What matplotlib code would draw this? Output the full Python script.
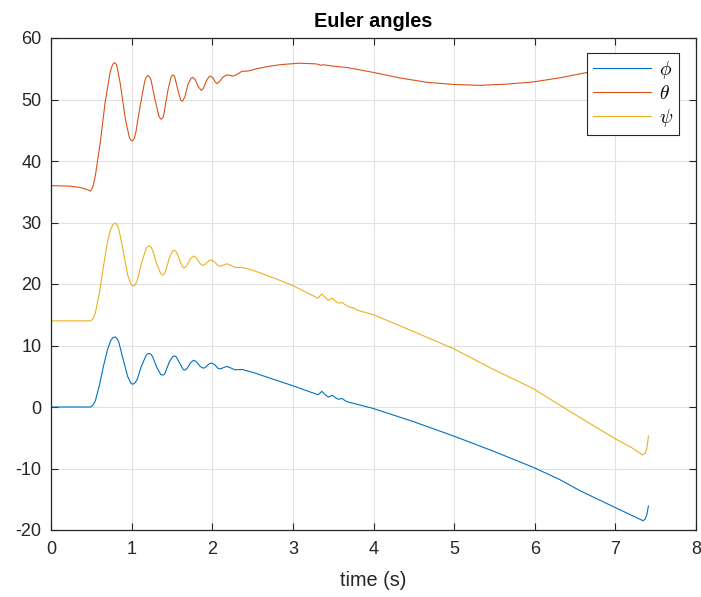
import numpy as np
import matplotlib
matplotlib.use('Agg')
import matplotlib.pyplot as plt

plt.rcParams['font.family'] = ['Liberation Sans', 'DejaVu Sans']
plt.rcParams['mathtext.fontset'] = 'cm'
plt.rcParams['axes.unicode_minus'] = False

# values (time in s, angles in deg)
t_phi = [0, 0.49, 0.52, 0.55, 0.60, 0.65, 0.70, 0.74, 0.77, 0.80, 0.82, 0.84, 0.89, 0.95,
         0.99, 1.01, 1.03, 1.05, 1.07, 1.12, 1.18, 1.20, 1.22, 1.24, 1.26, 1.31, 1.36, 1.38,
         1.39, 1.41, 1.42, 1.47, 1.51, 1.53, 1.55, 1.56, 1.61, 1.64, 1.66, 1.69, 1.73, 1.77,
         1.80, 1.85, 1.89, 1.92, 1.96, 1.99, 2.03, 2.07, 2.10, 2.14, 2.18, 2.22, 2.28, 2.37,
         2.51, 2.76, 2.99, 3.31, 3.34, 3.36, 3.40, 3.44, 3.47, 3.49, 3.53, 3.565, 3.61, 3.65,
         3.69, 3.75, 3.81, 4.00, 4.50, 4.99, 5.49, 5.98, 6.31, 6.56, 6.99, 7.20, 7.345, 7.37,
         7.39, 7.40, 7.41]
phi = [0, 0, 0.3, 1.0, 3.5, 6.6, 9.3, 10.8, 11.3, 11.4, 11.1, 10.6, 8.0, 5.0,
       3.9, 3.7, 3.8, 4.1, 4.5, 6.6, 8.4, 8.65, 8.7, 8.55, 8.2, 6.5, 5.3, 5.2,
       5.2, 5.35, 5.7, 7.4, 8.2, 8.3, 8.2, 8.0, 6.8, 6.1, 6.0, 6.3, 7.2, 7.6,
       7.4, 6.6, 6.3, 6.5, 7.0, 7.15, 6.9, 6.3, 6.2, 6.4, 6.6, 6.4, 6.05, 6.1,
       5.6, 4.5, 3.5, 2.0, 2.3, 2.55, 2.0, 1.6, 1.8, 1.9, 1.5, 1.25, 1.4, 1.0,
       0.8, 0.6, 0.4, -0.25, -2.4, -4.7, -7.2, -9.8, -11.8, -13.6, -16.3, -17.6, -18.5, -18.2,
       -17.5, -16.8, -16.1]

t_theta = [0, 0.24, 0.36, 0.44, 0.49, 0.52, 0.55, 0.61, 0.67, 0.73, 0.75, 0.77, 0.79, 0.81,
           0.82, 0.86, 0.92, 0.97, 0.99, 1.01, 1.03, 1.05, 1.10, 1.16, 1.18, 1.20, 1.22, 1.24,
           1.29, 1.34, 1.36, 1.37, 1.39, 1.40, 1.45, 1.49, 1.51, 1.53, 1.54, 1.58, 1.61, 1.63,
           1.66, 1.70, 1.74, 1.76, 1.79, 1.83, 1.865, 1.89, 1.93, 1.96, 1.98, 2.01, 2.04, 2.06,
           2.09, 2.13, 2.18, 2.22, 2.26, 2.31, 2.37, 2.42, 2.47, 2.55, 2.70, 2.84, 2.97, 3.09,
           3.28, 3.32, 3.34, 3.37, 3.40, 3.44, 3.48, 3.67, 4.00, 4.33, 4.66, 4.99, 5.32, 5.65,
           5.98, 6.32, 6.69, 7.0, 7.3, 7.41]
theta = [36.0, 35.9, 35.7, 35.4, 35.1, 35.8, 37.6, 42.9, 49.4, 54.2, 55.2, 55.8, 56.0, 55.7,
         55.3, 52.5, 47.0, 43.9, 43.4, 43.25, 43.6, 44.5, 48.5, 52.8, 53.6, 53.9, 53.7, 53.2,
         50.0, 47.2, 46.85, 46.8, 47.1, 47.6, 51.5, 53.7, 54.0, 53.8, 53.4, 51.2, 49.9, 49.7,
         50.4, 52.5, 53.5, 53.6, 53.2, 52.0, 51.5, 51.8, 53.1, 53.7, 53.8, 53.5, 52.8, 52.6,
         52.9, 53.6, 54.0, 53.9, 53.8, 54.1, 54.6, 54.6, 54.7, 55.0, 55.4, 55.65, 55.8, 55.9,
         55.8, 55.7, 55.55, 55.65, 55.6, 55.55, 55.45, 55.2, 54.4, 53.5, 52.8, 52.45, 52.3, 52.5,
         52.85, 53.55, 54.5, 55.3, 56.0, 56.5]

t_psi = [0, 0.49, 0.52, 0.55, 0.60, 0.65, 0.70, 0.74, 0.77, 0.80, 0.82, 0.84, 0.89, 0.95,
         0.99, 1.01, 1.03, 1.05, 1.07, 1.12, 1.18, 1.20, 1.22, 1.24, 1.26, 1.31, 1.36, 1.38,
         1.39, 1.41, 1.42, 1.47, 1.51, 1.53, 1.55, 1.56, 1.61, 1.63, 1.65, 1.68, 1.73, 1.77,
         1.80, 1.85, 1.886, 1.92, 1.96, 1.99, 2.03, 2.07, 2.10, 2.14, 2.18, 2.22, 2.28, 2.37,
         2.51, 2.76, 2.99, 3.31, 3.34, 3.36, 3.40, 3.44, 3.47, 3.49, 3.53, 3.565, 3.61, 3.65,
         3.69, 3.75, 3.81, 4.00, 4.50, 4.99, 5.49, 5.98, 6.31, 6.56, 6.99, 7.20, 7.34, 7.37,
         7.39, 7.40, 7.41]
psi = [14.0, 14.0, 14.3, 15.3, 18.5, 22.8, 26.8, 28.9, 29.7, 29.9, 29.6, 29.0, 25.8, 21.5,
       20.0, 19.75, 19.7, 20.0, 20.6, 23.3, 25.8, 26.1, 26.2, 26.0, 25.5, 23.3, 21.7, 21.5,
       21.5, 21.7, 22.1, 24.3, 25.4, 25.5, 25.3, 25.1, 23.4, 22.8, 22.6, 22.9, 24.1, 24.55,
       24.3, 23.3, 23.0, 23.3, 23.8, 23.9, 23.6, 23.0, 22.9, 23.1, 23.3, 23.1, 22.7, 22.7,
       22.2, 21.0, 19.8, 17.7, 18.1, 18.4, 17.8, 17.35, 17.6, 17.7, 17.2, 16.9, 17.0, 16.6,
       16.3, 16.1, 15.7, 15.0, 12.25, 9.5, 6.1, 3.0, 0.3, -1.7, -5.1, -6.6, -7.8, -7.5,
       -6.8, -5.8, -4.7]

xticks = [0, 1, 2, 3, 4, 5, 6, 7, 8]
yticks = [-20, -10, 0, 10, 20, 30, 40, 50, 60]

fig = plt.figure(figsize=(7.01, 5.97), dpi=100)
ax = fig.add_axes([51 / 701, 1 - 530 / 597, 645 / 701, 492 / 597])

ax.plot(t_phi, phi, color=(0, 0.447, 0.741), lw=0.8, label=r'$\phi$')
ax.plot(t_theta, theta, color=(0.85, 0.325, 0.098), lw=0.8, label=r'$\theta$')
ax.plot(t_psi, psi, color=(0.929, 0.694, 0.125), lw=0.8, label=r'$\psi$')

ax.set_xlim(0, 8)
ax.set_ylim(-20, 60)
ax.set_xticks(xticks)
ax.set_yticks(yticks)
ax.grid(True, color='#e2e2e2', lw=0.8)
ax.set_axisbelow(True)
ax.tick_params(direction='in', top=True, right=True, length=5, width=0.8,
               colors='#262626', labelsize=13)
ax.tick_params(axis='y', pad=7)
ax.tick_params(axis='x', pad=8)
for s in ax.spines.values():
    s.set_color('#262626')
    s.set_linewidth(0.9)

ax.set_title('Euler angles', fontsize=14.3, fontweight='bold', pad=8)
ax.set_xlabel('time (s)', fontsize=14.3, color='#262626', labelpad=9)

leg = ax.legend(loc='upper right', bbox_to_anchor=((678.7 - 51) / 645, 1 - 15.3 / 492),
                fontsize=14, frameon=True, fancybox=False, handlelength=3.0,
                handletextpad=0.4, borderpad=0.3, labelspacing=0.2, borderaxespad=0)
leg.get_frame().set_edgecolor('#262626')
leg.get_frame().set_linewidth(0.8)
leg.get_frame().set_alpha(1)

fig.savefig('out.png', dpi=100)
